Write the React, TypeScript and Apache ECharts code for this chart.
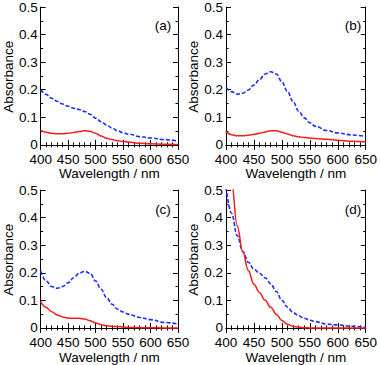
import React, { useEffect, useRef } from 'react';
import * as echarts from 'echarts';

const wavelengths = [400, 410, 420, 430, 440, 450, 460, 470, 480, 490, 500, 510, 520, 530, 540, 550, 560, 580, 600, 625, 650];

const blueA = [0.200, 0.183, 0.169, 0.158, 0.148, 0.140, 0.133, 0.128, 0.121, 0.111, 0.097, 0.084, 0.072, 0.061, 0.051, 0.044, 0.039, 0.030, 0.025, 0.019, 0.014];
const redA = [0.052, 0.046, 0.042, 0.040, 0.040, 0.042, 0.045, 0.048, 0.051, 0.049, 0.042, 0.032, 0.024, 0.019, 0.015, 0.012, 0.010, 0.006, 0.004, 0.002, 0.001];

const blueB = [0.208, 0.193, 0.184, 0.187, 0.199, 0.217, 0.237, 0.257, 0.265, 0.257, 0.229, 0.193, 0.157, 0.122, 0.098, 0.080, 0.067, 0.052, 0.043, 0.036, 0.030];
const redB = [0.048, 0.037, 0.033, 0.033, 0.035, 0.038, 0.042, 0.047, 0.051, 0.051, 0.046, 0.039, 0.033, 0.029, 0.027, 0.025, 0.023, 0.020, 0.017, 0.013, 0.010];

const blueC = [0.206, 0.170, 0.150, 0.144, 0.150, 0.164, 0.182, 0.198, 0.206, 0.198, 0.170, 0.140, 0.110, 0.086, 0.068, 0.058, 0.050, 0.038, 0.030, 0.020, 0.014];
const redC = [0.095, 0.074, 0.059, 0.047, 0.040, 0.036, 0.035, 0.035, 0.032, 0.026, 0.018, 0.012, 0.008, 0.006, 0.005, 0.003, 0.002, 0.001, 0.001, 0.000, 0.000];

const blueD = [0.510, 0.415, 0.335, 0.278, 0.238, 0.213, 0.198, 0.182, 0.160, 0.132, 0.100, 0.075, 0.056, 0.044, 0.035, 0.028, 0.023, 0.014, 0.011, 0.006, 0.002];
const redD = [0.700, 0.530, 0.370, 0.275, 0.208, 0.158, 0.128, 0.100, 0.075, 0.050, 0.027, 0.013, 0.006, 0.003, 0.001, 0.000, 0.000, 0.000, 0.000, 0.000, 0.000];

const panelLabels = ['(a)', '(b)', '(c)', '(d)'];
const blueSeries = [blueA, blueB, blueC, blueD];
const redSeries = [redA, redB, redC, redD];

const yMajorTicks = [0, 0.1, 0.2, 0.3, 0.4, 0.5];
const yMinorTicks = [0.05, 0.15, 0.25, 0.35, 0.45];

const xTitle = 'Wavelength / nm';
const yTitle = 'Absorbance';

const FONT = 'Liberation Sans, Arial, sans-serif';

export default function App() {
  const ref = useRef<HTMLDivElement>(null);
  useEffect(() => {
    const chart = echarts.init(ref.current!, null, { renderer: 'svg' });
    const lefts = [36, 226, 36, 226];
    const tops = [6, 6, 190, 190];
    const W = 142;
    const H = 140.5;
    const YMIN = -0.006;
    const YMAX = 0.5;
    const grids: any[] = [];
    const xAxes: any[] = [];
    const yAxes: any[] = [];
    const series: any[] = [];
    const graphics: any[] = [];
    const black = { color: '#000', width: 1 };
    for (let i = 0; i < 4; i++) {
      grids.push({ left: lefts[i], top: tops[i], width: W, height: H, containLabel: false });
      const xBase = {
        type: 'value', gridIndex: i, min: 400, max: 650, interval: 50,
        splitLine: { show: false },
        axisLine: { show: true, lineStyle: black },
        axisTick: { show: true, inside: true, length: 5, lineStyle: black },
        minorTick: { show: true, splitNumber: 5, length: 2.5, lineStyle: black },
        minorSplitLine: { show: false },
      };
      xAxes.push({
        ...xBase, position: 'bottom',
        axisLabel: { show: true, color: '#000', fontSize: 13.5, fontFamily: FONT, margin: 5.5 },
        name: xTitle, nameLocation: 'middle', nameGap: 19.5,
        nameTextStyle: { color: '#000', fontSize: 13.5, fontFamily: FONT },
      });
      xAxes.push({ ...xBase, position: 'top', axisLabel: { show: false } });
      const yBase = {
        type: 'value', gridIndex: i, min: YMIN, max: YMAX,
        splitLine: { show: false },
      };
      yAxes.push({
        ...yBase, position: 'left',
        axisLine: { show: true, lineStyle: black },
        axisTick: { show: true, inside: true, length: 5, lineStyle: black, customValues: yMajorTicks },
        axisLabel: {
          show: true, color: '#000', fontSize: 13.5, fontFamily: FONT, margin: 3,
          customValues: yMajorTicks,
          formatter: (v: number) => (Math.abs(v) < 1e-9 ? '0' : v.toFixed(1)),
        },
        name: yTitle, nameLocation: 'middle', nameGap: 21,
        nameTextStyle: { color: '#000', fontSize: 13.5, fontFamily: FONT },
      });
      yAxes.push({
        ...yBase, position: 'left',
        axisLine: { show: false },
        axisTick: { show: true, inside: true, length: 2.5, lineStyle: black, customValues: yMinorTicks },
        axisLabel: { show: false },
      });
      yAxes.push({
        ...yBase, position: 'right',
        axisLine: { show: true, lineStyle: black },
        axisTick: { show: true, inside: true, length: 5, lineStyle: black, customValues: yMajorTicks },
        axisLabel: { show: false },
      });
      yAxes.push({
        ...yBase, position: 'right',
        axisLine: { show: false },
        axisTick: { show: true, inside: true, length: 2.5, lineStyle: black, customValues: yMinorTicks },
        axisLabel: { show: false },
      });
      series.push({
        type: 'line', xAxisIndex: 2 * i, yAxisIndex: 4 * i,
        data: wavelengths.map((w, k) => [w, blueSeries[i][k]]),
        showSymbol: false, symbol: 'none', smooth: 0.4, smoothMonotone: 'x', clip: true,
        lineStyle: { color: '#1a2cff', width: 1.6, type: [4, 2] },
      });
      series.push({
        type: 'line', xAxisIndex: 2 * i, yAxisIndex: 4 * i,
        data: wavelengths.map((w, k) => [w, redSeries[i][k]]),
        showSymbol: false, symbol: 'none', smooth: 0.4, smoothMonotone: 'x', clip: true,
        lineStyle: { color: '#ff1a1a', width: 1.5, type: 'solid' },
      });
      graphics.push({
        type: 'text', x: lefts[i] + 127, y: tops[i] + 19.5,
        style: {
          text: panelLabels[i], fill: '#000', fontSize: 13.5, fontFamily: FONT,
          align: 'center', verticalAlign: 'middle',
        },
      });
    }
    chart.setOption({
      animation: false,
      backgroundColor: '#fff',
      grid: grids,
      xAxis: xAxes,
      yAxis: yAxes,
      series,
      graphic: graphics,
    });
    return () => chart.dispose();
  }, []);
  return <div ref={ref} style={{ position: 'absolute', left: 0, top: 0, width: 380, height: 365 }} />;
}
